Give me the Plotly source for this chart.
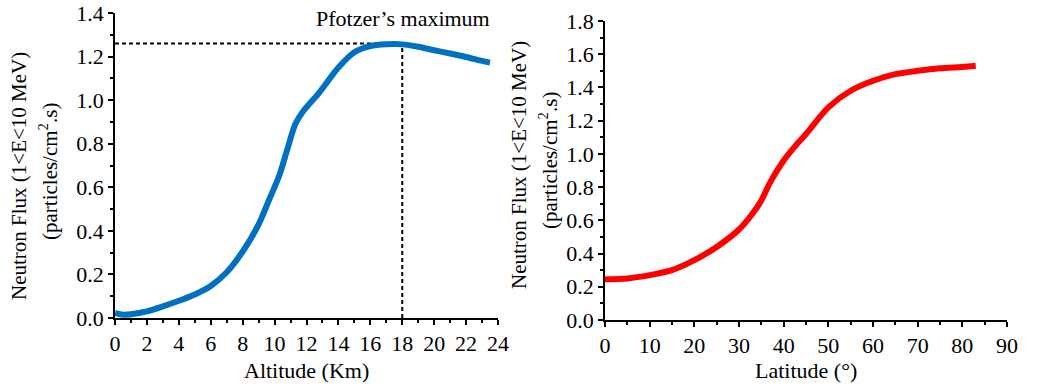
import plotly.graph_objects as go

# Left panel: neutron flux vs altitude
altitude_km = [0, 0.5, 1, 2, 3, 4, 5, 6, 7, 8, 9, 9.7, 10.3, 10.8, 11.3, 11.8, 12.8, 14, 15, 16, 17, 18, 19, 20, 21, 22, 23, 23.5]
flux_alt = [0.023, 0.015, 0.017, 0.03, 0.053, 0.079, 0.108, 0.147, 0.21, 0.305, 0.43, 0.55, 0.655, 0.775, 0.89, 0.95, 1.035, 1.15, 1.22, 1.248, 1.256, 1.256, 1.245, 1.229, 1.214, 1.198, 1.18, 1.172]

# Right panel: neutron flux vs latitude
latitude_deg = [0, 5, 10, 15, 20, 25, 30, 33, 35, 37, 40, 43, 45, 50, 55, 60, 65, 70, 75, 80, 83]
flux_lat = [0.245, 0.25, 0.27, 0.30, 0.36, 0.44, 0.545, 0.64, 0.72, 0.83, 0.96, 1.06, 1.12, 1.28, 1.38, 1.44, 1.48, 1.50, 1.515, 1.523, 1.53]

# Pfotzer maximum marker
pfotzer_alt = 18
pfotzer_flux = 1.26

left_xticks = list(range(0, 25, 2))
left_yticks = [0.0, 0.2, 0.4, 0.6, 0.8, 1.0, 1.2, 1.4]
right_xticks = list(range(0, 91, 10))
right_yticks = [0.0, 0.2, 0.4, 0.6, 0.8, 1.0, 1.2, 1.4, 1.6, 1.8]

FONT = "Liberation Serif"
FS = 22
FSV = 21
W, H = 1060, 390

fig = go.Figure()

fig.add_trace(go.Scatter(x=[0, pfotzer_alt], y=[pfotzer_flux, pfotzer_flux], mode="lines",
                         line=dict(color="black", width=2, dash="4px,3px"), xaxis="x", yaxis="y", showlegend=False))
fig.add_trace(go.Scatter(x=[pfotzer_alt, pfotzer_alt], y=[0, pfotzer_flux], mode="lines",
                         line=dict(color="black", width=2, dash="4px,3px"), xaxis="x", yaxis="y", showlegend=False))
fig.add_trace(go.Scatter(x=altitude_km, y=flux_alt, mode="lines", line=dict(color="#0070C0", width=6, shape="spline", smoothing=0.8),
                         xaxis="x", yaxis="y", showlegend=False))
fig.add_trace(go.Scatter(x=latitude_deg, y=flux_lat, mode="lines", line=dict(color="#FF0000", width=6, shape="spline", smoothing=0.8),
                         xaxis="x2", yaxis="y2", showlegend=False))

axis_common = dict(showgrid=False, zeroline=False, showline=True, linecolor="black", linewidth=1.5,
                   ticks="outside", ticklen=5, tickwidth=1.5, tickcolor="black", automargin=False,
                   ticklabeloverflow="allow",
                   tickfont=dict(family=FONT, size=FS, color="black"))
minor_common = dict(ticks="outside", ticklen=3, tickcolor="black", tickwidth=1.5)

fig.update_layout(
    width=W, height=H,
    margin=dict(l=0, r=0, t=0, b=0),
    paper_bgcolor="white", plot_bgcolor="white",
    font=dict(family=FONT, size=FS, color="black"),
    xaxis=dict(domain=[115 / W, 498 / W], range=[0, 24], tickvals=left_xticks, anchor="y",
               minor=dict(dtick=1, **minor_common), **axis_common),
    yaxis=dict(domain=[(H - 318) / H, (H - 13) / H], range=[0, 1.4], tickvals=left_yticks, tickformat=".1f", anchor="x",
               minor=dict(dtick=0.1, **minor_common), **axis_common),
    xaxis2=dict(domain=[605 / W, 1007 / W], range=[0, 90], tickvals=right_xticks, anchor="y2",
                minor=dict(dtick=5, **minor_common), **axis_common),
    yaxis2=dict(domain=[(H - 320) / H, (H - 21) / H], range=[0, 1.8], tickvals=right_yticks, tickformat=".1f", anchor="x2",
                minor=dict(dtick=0.1, **minor_common), **axis_common),
)

ann = []
ann.append(dict(text="Pfotzer\u2019s maximum", x=492 / W, y=1 - 18 / H, xref="paper", yref="paper",
                xanchor="right", yanchor="middle", showarrow=False, font=dict(family=FONT, size=FS)))
ann.append(dict(text="Altitude (Km)", x=306 / W, y=1 - 370 / H, xref="paper", yref="paper",
                xanchor="center", yanchor="middle", showarrow=False, font=dict(family=FONT, size=FS)))
ann.append(dict(text="Latitude (\u00b0)", x=806 / W, y=1 - 370 / H, xref="paper", yref="paper",
                xanchor="center", yanchor="middle", showarrow=False, font=dict(family=FONT, size=FS)))
for cx, cy in [(19, 176), (519, 165)]:
    ann.append(dict(text="Neutron Flux (1<E<10 MeV)", x=cx / W, y=1 - cy / H, xref="paper", yref="paper",
                    xanchor="center", yanchor="middle", textangle=-90, showarrow=False, font=dict(family=FONT, size=FSV)))
    ann.append(dict(text="(particles/cm<sup>2</sup>.s)", x=(cx + 29) / W, y=1 - (cy - 4) / H, xref="paper", yref="paper",
                    xanchor="center", yanchor="middle", textangle=-90, showarrow=False, font=dict(family=FONT, size=FSV)))
fig.update_layout(annotations=ann)

fig.write_html("out.html", config={"displayModeBar": False},
               post_script="document.body.style.margin='0';")
